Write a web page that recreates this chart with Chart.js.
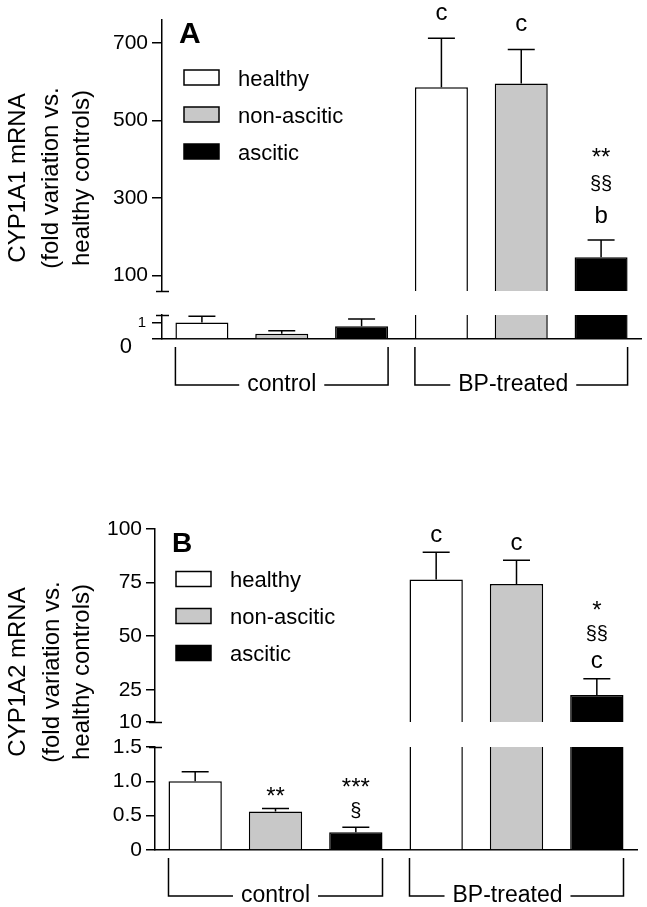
<!DOCTYPE html>
<html>
<head>
<meta charset="utf-8">
<script src="https://cdn.jsdelivr.net/npm/chart.js@4.4.0/dist/chart.umd.min.js"></script>
<style>
  html, body { margin: 0; padding: 0; background: #fff; }
  #wrap { position: relative; width: 647px; height: 907px; }
  #wrap canvas { position: absolute; left: 0; top: 0; }
</style>
</head>
<body>
<div id="wrap">
  <canvas id="a1Upper" width="647" height="907"></canvas>
  <canvas id="a1Lower" width="647" height="907"></canvas>
  <canvas id="a2Upper" width="647" height="907"></canvas>
  <canvas id="a2Lower" width="647" height="907"></canvas>
</div>
<script>
const groups = ['control', 'BP-treated'];
const seriesNames = ['healthy', 'non-ascitic', 'ascitic'];

// A: CYP1A1 mRNA, mean and error per group (control, BP-treated)
const cyp1a1Healthy = [1.0, 586];
const cyp1a1NonAscitic = [0.32, 596];
const cyp1a1Ascitic = [0.77, 147];
const cyp1a1HealthyErr = [0.38, 127];
const cyp1a1NonAsciticErr = [0.18, 88];
const cyp1a1AsciticErr = [0.44, 45];
// significance marks, listed bottom-up
const cyp1a1HealthyMarks = [[], ['c']];
const cyp1a1NonAsciticMarks = [[], ['c']];
const cyp1a1AsciticMarks = [[], ['b', '§§', '**']];

// B: CYP1A2 mRNA
const cyp1a2Healthy = [1.0, 76.4];
const cyp1a2NonAscitic = [0.56, 74.3];
const cyp1a2Ascitic = [0.26, 22.6];
const cyp1a2HealthyErr = [0.14, 12.7];
const cyp1a2NonAsciticErr = [0.045, 11.1];
const cyp1a2AsciticErr = [0.07, 7.6];
const cyp1a2HealthyMarks = [[], ['c']];
const cyp1a2NonAsciticMarks = [['**'], ['c']];
const cyp1a2AsciticMarks = [['§', '***'], ['c', '§§', '*']];

// broken y axes: [min, max] of each segment and its ticks
const cyp1a1LowerRange = [0, 1.45];
const cyp1a1UpperRange = [60, 760];
const cyp1a1LowerTicks = [0, 1];
const cyp1a1UpperTicks = [100, 300, 500, 700];
const cyp1a2LowerRange = [0, 1.5];
const cyp1a2UpperRange = [10, 100];
const cyp1a2LowerTicks = [0, 0.5, 1.0, 1.5];
const cyp1a2UpperTicks = [10, 25, 50, 75, 100];

const FONT = "'Liberation Sans', Arial, Helvetica, sans-serif";
const fills = ['#ffffff', '#c8c8c8', '#000000'];
Chart.defaults.font.family = FONT;
Chart.defaults.color = '#000';

const breakPlugin = {
  id: 'breakPanel',
  afterDatasetsDraw(chart, args, o) {
    const ctx = chart.ctx, y = chart.scales.y;
    ctx.save();
    ctx.strokeStyle = '#000';
    ctx.fillStyle = '#000';
    ctx.lineWidth = 1.5;
    chart.data.datasets.forEach((ds, i) => {
      chart.getDatasetMeta(i).data.forEach((bar, j) => {
        const v = ds.data[j];
        if (v < y.min || v > y.max) return;
        const top = y.getPixelForValue(v + ds.errors[j]);
        ctx.beginPath();
        ctx.moveTo(bar.x, bar.y);
        ctx.lineTo(bar.x, top);
        ctx.moveTo(bar.x - 13.5, top);
        ctx.lineTo(bar.x + 13.5, top);
        ctx.stroke();
        (ds.marks[j] || []).forEach((m, k) => {
          ctx.font = (m.includes('§') ? 20 : 24) + 'px ' + FONT;
          ctx.textAlign = 'center';
          ctx.textBaseline = 'alphabetic';
          const mt = ctx.measureText(m);
          const cy = top - o.markGap - k * o.markStep;
          ctx.fillText(m, bar.x, cy + (mt.actualBoundingBoxAscent - mt.actualBoundingBoxDescent) / 2);
        });
      });
    });
    ctx.restore();
  },
  afterDraw(chart, args, o) {
    const ctx = chart.ctx, y = chart.scales.y, area = chart.chartArea;
    ctx.save();
    ctx.strokeStyle = '#000';
    ctx.fillStyle = '#000';
    ctx.lineWidth = 1.5;

    // end caps of the axis segments
    (o.caps || []).forEach(v => {
      const py = Math.round(y.getPixelForValue(v)) + 0.5;
      ctx.beginPath();
      ctx.moveTo(area.left - 6, py);
      ctx.lineTo(area.left + 7, py);
      ctx.stroke();
    });

    if (o.letter) {
      ctx.font = 'bold ' + o.letter.size + 'px ' + FONT;
      ctx.textAlign = 'left';
      ctx.textBaseline = 'alphabetic';
      ctx.fillText(o.letter.text, o.letter.x, o.letter.y);
    }

    if (o.legend) {
      chart.data.datasets.forEach((ds, i) => {
        const cy = o.legend.y + i * o.legend.step;
        ctx.fillStyle = ds.backgroundColor;
        ctx.fillRect(o.legend.x, cy - 7.5, 35, 15);
        ctx.strokeRect(o.legend.x, cy - 7.5, 35, 15);
        ctx.fillStyle = '#000';
        ctx.font = '22px ' + FONT;
        ctx.textAlign = 'left';
        ctx.textBaseline = 'alphabetic';
        ctx.fillText(ds.label, o.legend.x + 54, cy + 8);
      });
    }

    if (o.lowerLabels) {
      o.lowerLabels.forEach(l => {
        ctx.font = l.size + 'px ' + FONT;
        ctx.textAlign = 'right';
        ctx.textBaseline = 'middle';
        ctx.fillText(l.text, l.right, y.getPixelForValue(l.value) + l.dy);
      });
    }

    if (o.brackets) {
      const first = chart.getDatasetMeta(0), last = chart.getDatasetMeta(chart.data.datasets.length - 1);
      chart.data.labels.forEach((lab, j) => {
        const b0 = first.data[j], b2 = last.data[j];
        const x1 = b0.x - b0.width / 2, x2 = b2.x + b2.width / 2;
        const yb = o.brackets.bottom;
        ctx.font = '23px ' + FONT;
        const w = ctx.measureText(lab).width;
        const cx = (x1 + x2) / 2 + o.brackets.shift[j];
        ctx.beginPath();
        ctx.moveTo(x1, o.brackets.top);
        ctx.lineTo(x1, yb);
        ctx.lineTo(cx - w / 2 - 8, yb);
        ctx.moveTo(cx + w / 2 + 8, yb);
        ctx.lineTo(x2, yb);
        ctx.lineTo(x2, o.brackets.top);
        ctx.stroke();
        ctx.textAlign = 'center';
        ctx.textBaseline = 'middle';
        ctx.fillText(lab, cx, yb);
      });
    }

    if (o.title) {
      ctx.font = '24px ' + FONT;
      ctx.textAlign = 'center';
      ctx.textBaseline = 'middle';
      o.title.lines.forEach((t, k) => {
        ctx.save();
        ctx.translate(o.title.xs[k], o.title.cy);
        ctx.rotate(-Math.PI / 2);
        ctx.fillText(t, 0, 0);
        ctx.restore();
      });
    }
    ctx.restore();
  }
};

function makeSegment(id, p, upper) {
  const range = upper ? p.upperRange : p.lowerRange;
  const tickVals = upper ? p.upperTicks : p.lowerTicks;
  const top = upper ? p.upperTop : p.lowerTop;
  const bottom = upper ? p.upperBottom : p.lowerBottom;
  const pluginOpts = upper
    ? { caps: p.upperCaps, letter: p.letter, legend: p.legend, markGap: p.markGap, markStep: p.markStep }
    : { caps: p.lowerCaps, brackets: p.brackets, title: p.title, lowerLabels: p.lowerLabels,
        markGap: p.markGap, markStep: p.markStep };

  return new Chart(document.getElementById(id), {
    type: 'bar',
    data: {
      labels: groups,
      datasets: p.values.map((vals, i) => ({
        label: seriesNames[i],
        data: vals,
        errors: p.errors[i],
        marks: p.marks[i],
        backgroundColor: fills[i],
        borderColor: '#000',
        borderWidth: 1.5,
        barPercentage: 0.664,
        categoryPercentage: 1
      }))
    },
    options: {
      responsive: false,
      animation: false,
      events: [],
      layout: { padding: { left: 0, right: 647 - p.right, top: top, bottom: 907 - bottom } },
      scales: {
        x: {
          display: !upper,
          grid: { display: false },
          ticks: { display: false },
          border: { display: true, color: '#000', width: 1.5 },
          afterFit: s => { s.height = 0; }
        },
        y: {
          min: range[0],
          max: range[1],
          afterBuildTicks: s => { s.ticks = tickVals.map(v => ({ value: v })); },
          afterFit: s => { s.width = p.left; },
          grid: { drawOnChartArea: false, drawTicks: true, tickLength: p.tickLen, color: '#000', lineWidth: 1.5 },
          border: { display: true, color: '#000', width: 1.5 },
          ticks: {
            display: upper || !p.lowerLabels,
            color: '#000',
            padding: 4,
            font: { family: FONT, size: 21 },
            callback: v => p.format(v)
          }
        }
      },
      plugins: { legend: { display: false }, tooltip: { enabled: false }, breakPanel: pluginOpts }
    },
    plugins: [breakPlugin]
  });
}

const panelA = {
  values: [cyp1a1Healthy, cyp1a1NonAscitic, cyp1a1Ascitic],
  errors: [cyp1a1HealthyErr, cyp1a1NonAsciticErr, cyp1a1AsciticErr],
  marks: [cyp1a1HealthyMarks, cyp1a1NonAsciticMarks, cyp1a1AsciticMarks],
  upperRange: cyp1a1UpperRange, lowerRange: cyp1a1LowerRange,
  upperTicks: cyp1a1UpperTicks, lowerTicks: cyp1a1LowerTicks,
  format: v => String(v),
  left: 162, right: 641, upperTop: 20, upperBottom: 291, lowerTop: 315, lowerBottom: 339,
  tickLen: 10,
  upperCaps: [cyp1a1UpperRange[0]], lowerCaps: [cyp1a1LowerRange[1]],
  letter: { text: 'A', x: 179, y: 43, size: 30 },
  legend: { x: 184, y: 77.5, step: 37 },
  markGap: 25, markStep: 31,
  lowerLabels: [
    { text: '1', value: 1, right: 146, dy: 0, size: 15 },
    { text: '0', value: 0, right: 132, dy: 8, size: 22 }
  ],
  brackets: { top: 347, bottom: 385, shift: [0, -8] },
  title: { lines: ['CYP1A1 mRNA', '(fold variation vs.', 'healthy controls)'], xs: [18, 51, 82], cy: 178 }
};

const panelB = {
  values: [cyp1a2Healthy, cyp1a2NonAscitic, cyp1a2Ascitic],
  errors: [cyp1a2HealthyErr, cyp1a2NonAsciticErr, cyp1a2AsciticErr],
  marks: [cyp1a2HealthyMarks, cyp1a2NonAsciticMarks, cyp1a2AsciticMarks],
  upperRange: cyp1a2UpperRange, lowerRange: cyp1a2LowerRange,
  upperTicks: cyp1a2UpperTicks, lowerTicks: cyp1a2LowerTicks,
  format: v => (v === 0 || v >= 10) ? String(v) : v.toFixed(1),
  left: 155, right: 637, upperTop: 529, upperBottom: 722, lowerTop: 747, lowerBottom: 850,
  tickLen: 9,
  upperCaps: [cyp1a2UpperRange[0]], lowerCaps: [cyp1a2LowerRange[1]],
  letter: { text: 'B', x: 172, y: 552, size: 28 },
  legend: { x: 176, y: 579, step: 37 },
  markGap: 17, markStep: 28,
  lowerLabels: null,
  brackets: { top: 858, bottom: 896, shift: [0, -9] },
  title: { lines: ['CYP1A2 mRNA', '(fold variation vs.', 'healthy controls)'], xs: [18, 52, 82], cy: 672 }
};

makeSegment('a1Upper', panelA, true);
makeSegment('a1Lower', panelA, false);
makeSegment('a2Upper', panelB, true);
makeSegment('a2Lower', panelB, false);
</script>
</body>
</html>
